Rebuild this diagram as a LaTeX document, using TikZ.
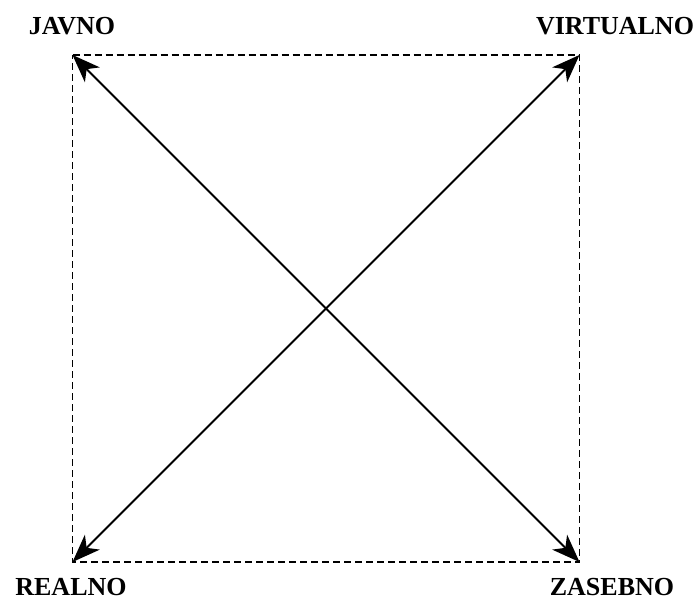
\documentclass[tikz,border=0pt]{standalone}
\usepackage{fontspec}
\setmainfont{Liberation Serif}
\usetikzlibrary{arrows.meta}
\begin{document}
\begin{tikzpicture}[x=1pt,y=1pt,
  lbl/.style={font=\fontsize{26}{30}\selectfont\bfseries, anchor=base, inner sep=0pt},
  frame/.style={line width=1.8pt, dash pattern=on 7pt off 4pt},
  diag/.style={line width=1.8pt, {Stealth[length=28pt,width=21pt,inset=8pt]}-{Stealth[length=28pt,width=21pt,inset=8pt]}}]
\useasboundingbox (0,0) rectangle (699,600);
\coordinate (tl) at (72.5,545);
\coordinate (tr) at (579.5,545);
\coordinate (bl) at (72.5,38);
\coordinate (br) at (579.5,38);
\draw[frame] (tl) -- (tr) -- (br) -- (bl) -- cycle;
\draw[diag] (tl) -- (br);
\draw[diag] (bl) -- (tr);
\node[lbl] (javno) at (72,565) {JAVNO};
\node[lbl] (virt) at (615,565) {VIRTUALNO};
\node[lbl] (real) at (71,5) {REALNO};
\node[lbl] (zas) at (612,5) {ZASEBNO};
\end{tikzpicture}
\end{document}
